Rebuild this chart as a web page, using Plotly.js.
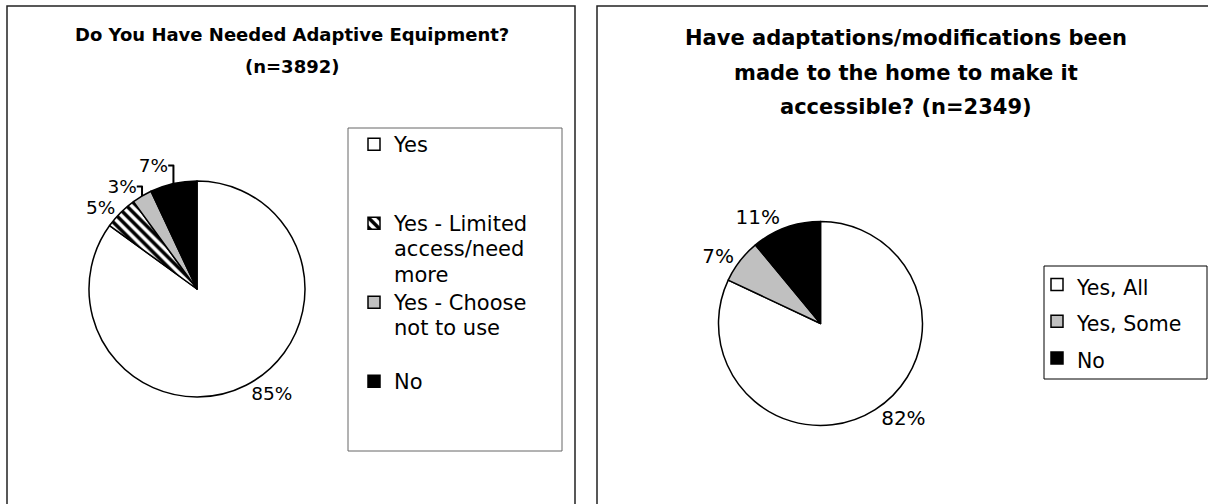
<!DOCTYPE html>
<html><head><meta charset="utf-8">
<script src="https://cdn.plot.ly/plotly-3.0.1.min.js"></script>
<style>html,body{margin:0;padding:0;background:#fff}#chart{width:1208px;height:504px}</style>
</head><body><div id="chart"></div>
<script>
// ---- data ----
const equipCategories = ["Yes", "Yes - Limited access/need more", "Yes - Choose not to use", "No"];
const equipValues = [85, 5, 3, 7];
const equipTitleLines = ["Do You Have Needed Adaptive Equipment?", "(n=3892)"];

const homeCategories = ["Yes, All", "Yes, Some", "No"];
const homeValues = [82, 7, 11];
const homeTitleLines = ["Have adaptations/modifications been", "made to the home to make it", "accessible? (n=2349)"];

// ---- presentation ----
const W = 1208, H = 504;
const X = p => p / W;
const Y = p => 1 - p / H;
const FONT = "DejaVu Sans";

// legend text wrapping (as in the original legend box) plus blank lines for spacing
const equipWrap = {"Yes - Limited access/need more": "Yes - Limited<br>access/need<br>more",
                   "Yes - Choose not to use": "Yes - Choose<br>not to use"};
const equipPad = [2, 0, 1, 0];
const equipLegend = equipCategories.map((c, i) =>
  (equipWrap[c] || c).split("<br>").map(l => '<span style="font-size:21px">' + l + '</span>').join("<br>") +
  "<br>\u00a0".repeat(equipPad[i]));
const homeLegend = homeCategories.map(c => '<span style="font-size:20.5px">' + c + '</span>');

const traces = [
  {
    type: "pie", values: equipValues, labels: equipLegend, sort: false,
    direction: "clockwise", rotation: 0,
    domain: {x: [X(89), X(305)], y: [Y(397), Y(181)]},
    marker: {colors: ["#ffffff", "#ffffff", "#c0c0c0", "#000000"],
             line: {color: "#000", width: 1.5},
             pattern: {shape: ["", "\\", "", ""], fgcolor: "#000", bgcolor: "#fff", size: 7, solidity: 0.5}},
    texttemplate: "%{value}%", textposition: "outside",
    outsidetextfont: {family: FONT, size: 18.5, color: "#000"},
    legend: "legend", hoverinfo: "label+value"
  },
  {
    type: "pie", values: homeValues, labels: homeLegend, sort: false,
    direction: "clockwise", rotation: 0,
    domain: {x: [X(718.5), X(922.5)], y: [Y(425.5), Y(221.5)]},
    marker: {colors: ["#ffffff", "#c0c0c0", "#000000"], line: {color: "#000", width: 1.5}},
    texttemplate: "%{value}%", textposition: "outside",
    outsidetextfont: {family: FONT, size: 20, color: "#000"},
    legend: "legend2", hoverinfo: "label+value"
  }
];

const annotations = [];
const titleYs1 = [35, 67];
equipTitleLines.forEach((t, i) => annotations.push({
  text: "<b>" + t + "</b>", xref: "paper", yref: "paper", x: X(292), y: Y(titleYs1[i]),
  xanchor: "center", yanchor: "middle", showarrow: false, font: {family: FONT, size: 18, color: "#000"}
}));
const titleYs2 = [38, 73, 107];
homeTitleLines.forEach((t, i) => annotations.push({
  text: "<b>" + t + "</b>", xref: "paper", yref: "paper", x: X(906), y: Y(titleYs2[i]),
  xanchor: "center", yanchor: "middle", showarrow: false, font: {family: FONT, size: 21, color: "#000"}
}));

const rect = (x0, y0, x1, y1, color, w) => ({type: "rect", xref: "paper", yref: "paper",
  x0: X(x0), x1: X(x1), y0: Y(y1), y1: Y(y0), line: {color: color, width: w}, fillcolor: "rgba(0,0,0,0)", layer: "below"});

const layout = {
  width: W, height: H, margin: {l: 0, r: 0, t: 0, b: 0},
  paper_bgcolor: "#fff", plot_bgcolor: "#fff",
  font: {family: FONT, color: "#000"},
  showlegend: true,
  legend: {x: X(354), xanchor: "left", y: Y(125), yanchor: "top", valign: "top", maxheight: 400,
           font: {family: FONT, size: 19.5, color: "#000"}, bgcolor: "rgba(0,0,0,0)", borderwidth: 0, traceorder: "normal"},
  legend2: {x: X(1037), xanchor: "left", y: Y(261), yanchor: "top", valign: "middle", maxheight: 400,
            font: {family: FONT, size: 26, color: "#000"}, bgcolor: "rgba(0,0,0,0)", borderwidth: 0, traceorder: "normal"},
  annotations: annotations,
  shapes: [
    rect(7, 6, 575, 520, "#222", 1.5),
    rect(597, 6, 1230, 520, "#222", 1.5),
    rect(348, 128, 562, 451, "#666", 1),
    rect(1044, 266, 1207, 379, "#000", 1)
  ]
};

Plotly.newPlot("chart", traces, layout, {displayModeBar: false, staticPlot: true});
</script></body></html>
